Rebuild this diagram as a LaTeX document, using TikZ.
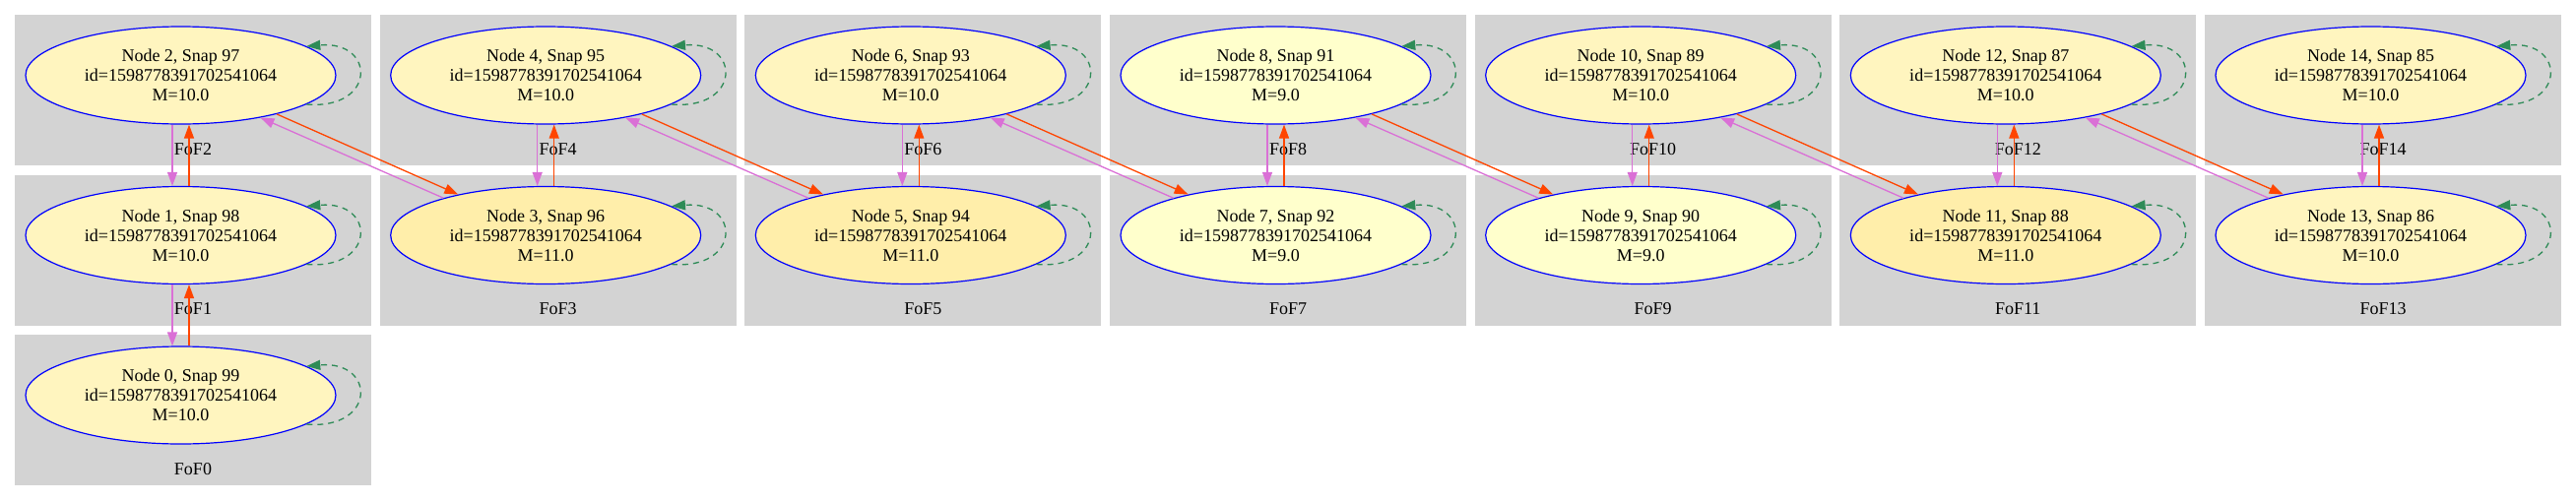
\documentclass[tikz,border=0pt]{standalone}
\usepackage{fontspec}
\setmainfont{Liberation Serif}
\usepackage{xcolor}
\usepackage{tikz}
\usetikzlibrary{shapes.geometric,arrows.meta}
\definecolor{mnine}{HTML}{FFFFCC}
\definecolor{mten}{HTML}{FFF5BF}
\definecolor{meleven}{HTML}{FFEEAA}
\definecolor{boxgray}{HTML}{D3D3D3}
\definecolor{fwdcol}{HTML}{FF4500}
\definecolor{backcol}{HTML}{DA70D6}
\definecolor{loopcol}{HTML}{2E8B57}

\begin{document}
\begin{tikzpicture}
[
x=1pt,y=-1pt,
fof/.style={ellipse,draw=blue,line width=1.2pt,fill=#1,
            minimum width=315pt,minimum height=99pt,inner sep=0pt,
            align=center,font=\fontsize{18}{20}\selectfont},
fofbox/.style={fill=boxgray},
foflabel/.style={inner sep=0pt,font=\fontsize{18}{20}\selectfont},
tip/.style={-{Triangle[length=14pt,width=10pt]}},
fwd/.style={tip,draw=fwdcol,line width=1.3pt},
back/.style={tip,draw=backcol,line width=1.3pt},
selfloop/.style={tip,draw=loopcol,line width=1.3pt,dash pattern=on 6pt off 5pt},
]
\useasboundingbox (0,0) rectangle (2616,509);

%cluster boxes
\fill[fofbox] (15,15) rectangle (377,168);		%FoF2
\fill[fofbox] (15,178) rectangle (377,331);		%FoF1
\fill[fofbox] (15,340) rectangle (377,493);		%FoF0
\fill[fofbox] (385.7,15) rectangle (747.7,168);	%FoF4
\fill[fofbox] (385.7,178) rectangle (747.7,331);	%FoF3
\fill[fofbox] (756.3,15) rectangle (1118.3,168);	%FoF6
\fill[fofbox] (756.3,178) rectangle (1118.3,331);	%FoF5
\fill[fofbox] (1127,15) rectangle (1489,168);		%FoF8
\fill[fofbox] (1127,178) rectangle (1489,331);		%FoF7
\fill[fofbox] (1497.7,15) rectangle (1859.7,168);	%FoF10
\fill[fofbox] (1497.7,178) rectangle (1859.7,331);	%FoF9
\fill[fofbox] (1868.3,15) rectangle (2230.3,168);	%FoF12
\fill[fofbox] (1868.3,178) rectangle (2230.3,331);	%FoF11
\fill[fofbox] (2239,15) rectangle (2601,168);		%FoF14
\fill[fofbox] (2239,178) rectangle (2601,331);		%FoF13

%cluster labels
\node[foflabel] (l0) at (196,477) {FoF0};
\node[foflabel] (l1) at (196,313.5) {FoF1};
\node[foflabel] (l2) at (196,152) {FoF2};
\node[foflabel] (l3) at (566.7,313.5) {FoF3};
\node[foflabel] (l4) at (566.7,152) {FoF4};
\node[foflabel] (l5) at (937.3,313.5) {FoF5};
\node[foflabel] (l6) at (937.3,152) {FoF6};
\node[foflabel] (l7) at (1308,313.5) {FoF7};
\node[foflabel] (l8) at (1308,152) {FoF8};
\node[foflabel] (l9) at (1678.7,313.5) {FoF9};
\node[foflabel] (l10) at (1678.7,152) {FoF10};
\node[foflabel] (l11) at (2049.3,313.5) {FoF11};
\node[foflabel] (l12) at (2049.3,152) {FoF12};
\node[foflabel] (l13) at (2420,313.5) {FoF13};
\node[foflabel] (l14) at (2420,152) {FoF14};

%Place the nodes
\node[fof=mten] (n0) at (183.5,401.5) {Node 0, Snap 99\\id=1598778391702541064\\M=10.0};
\node[fof=mten] (n1) at (183.5,239) {Node 1, Snap 98\\id=1598778391702541064\\M=10.0};
\node[fof=mten] (n2) at (183.5,76.5) {Node 2, Snap 97\\id=1598778391702541064\\M=10.0};
\node[fof=meleven] (n3) at (554.2,239) {Node 3, Snap 96\\id=1598778391702541064\\M=11.0};
\node[fof=mten] (n4) at (554.2,76.5) {Node 4, Snap 95\\id=1598778391702541064\\M=10.0};
\node[fof=meleven] (n5) at (924.8,239) {Node 5, Snap 94\\id=1598778391702541064\\M=11.0};
\node[fof=mten] (n6) at (924.8,76.5) {Node 6, Snap 93\\id=1598778391702541064\\M=10.0};
\node[fof=mnine] (n7) at (1295.5,239) {Node 7, Snap 92\\id=1598778391702541064\\M=9.0};
\node[fof=mnine] (n8) at (1295.5,76.5) {Node 8, Snap 91\\id=1598778391702541064\\M=9.0};
\node[fof=mnine] (n9) at (1666.2,239) {Node 9, Snap 90\\id=1598778391702541064\\M=9.0};
\node[fof=mten] (n10) at (1666.2,76.5) {Node 10, Snap 89\\id=1598778391702541064\\M=10.0};
\node[fof=meleven] (n11) at (2036.8,239) {Node 11, Snap 88\\id=1598778391702541064\\M=11.0};
\node[fof=mten] (n12) at (2036.8,76.5) {Node 12, Snap 87\\id=1598778391702541064\\M=10.0};
\node[fof=mten] (n13) at (2407.5,239) {Node 13, Snap 86\\id=1598778391702541064\\M=10.0};
\node[fof=mten] (n14) at (2407.5,76.5) {Node 14, Snap 85\\id=1598778391702541064\\M=10.0};

%self loops
\draw[selfloop] (n0.-13) .. controls +(71,6) and +(71,-6) .. (n0.13);
\draw[selfloop] (n1.-13) .. controls +(71,6) and +(71,-6) .. (n1.13);
\draw[selfloop] (n2.-13) .. controls +(71,6) and +(71,-6) .. (n2.13);
\draw[selfloop] (n3.-13) .. controls +(71,6) and +(71,-6) .. (n3.13);
\draw[selfloop] (n4.-13) .. controls +(71,6) and +(71,-6) .. (n4.13);
\draw[selfloop] (n5.-13) .. controls +(71,6) and +(71,-6) .. (n5.13);
\draw[selfloop] (n6.-13) .. controls +(71,6) and +(71,-6) .. (n6.13);
\draw[selfloop] (n7.-13) .. controls +(71,6) and +(71,-6) .. (n7.13);
\draw[selfloop] (n8.-13) .. controls +(71,6) and +(71,-6) .. (n8.13);
\draw[selfloop] (n9.-13) .. controls +(71,6) and +(71,-6) .. (n9.13);
\draw[selfloop] (n10.-13) .. controls +(71,6) and +(71,-6) .. (n10.13);
\draw[selfloop] (n11.-13) .. controls +(71,6) and +(71,-6) .. (n11.13);
\draw[selfloop] (n12.-13) .. controls +(71,6) and +(71,-6) .. (n12.13);
\draw[selfloop] (n13.-13) .. controls +(71,6) and +(71,-6) .. (n13.13);
\draw[selfloop] (n14.-13) .. controls +(71,6) and +(71,-6) .. (n14.13);

%connections
%same column, going up
\draw[fwd] ([xshift=8.5pt]n0.north) -- ([xshift=8.5pt]n1.south);
\draw[back] ([xshift=-8.5pt]n1.south) -- ([xshift=-8.5pt]n0.north);
\draw[fwd] ([xshift=8.5pt]n1.north) -- ([xshift=8.5pt]n2.south);
\draw[back] ([xshift=-8.5pt]n2.south) -- ([xshift=-8.5pt]n1.north);
\draw[fwd] ([xshift=8.5pt]n3.north) -- ([xshift=8.5pt]n4.south);
\draw[back] ([xshift=-8.5pt]n4.south) -- ([xshift=-8.5pt]n3.north);
\draw[fwd] ([xshift=8.5pt]n5.north) -- ([xshift=8.5pt]n6.south);
\draw[back] ([xshift=-8.5pt]n6.south) -- ([xshift=-8.5pt]n5.north);
\draw[fwd] ([xshift=8.5pt]n7.north) -- ([xshift=8.5pt]n8.south);
\draw[back] ([xshift=-8.5pt]n8.south) -- ([xshift=-8.5pt]n7.north);
\draw[fwd] ([xshift=8.5pt]n9.north) -- ([xshift=8.5pt]n10.south);
\draw[back] ([xshift=-8.5pt]n10.south) -- ([xshift=-8.5pt]n9.north);
\draw[fwd] ([xshift=8.5pt]n11.north) -- ([xshift=8.5pt]n12.south);
\draw[back] ([xshift=-8.5pt]n12.south) -- ([xshift=-8.5pt]n11.north);
\draw[fwd] ([xshift=8.5pt]n13.north) -- ([xshift=8.5pt]n14.south);
\draw[back] ([xshift=-8.5pt]n14.south) -- ([xshift=-8.5pt]n13.north);
%next column, going down
\draw[fwd] (n2.-22) -- (n3.155.5);
\draw[back] (n3.160.4) -- (n2.-28);
\draw[fwd] (n4.-22) -- (n5.155.5);
\draw[back] (n5.160.4) -- (n4.-28);
\draw[fwd] (n6.-22) -- (n7.155.5);
\draw[back] (n7.160.4) -- (n6.-28);
\draw[fwd] (n8.-22) -- (n9.155.5);
\draw[back] (n9.160.4) -- (n8.-28);
\draw[fwd] (n10.-22) -- (n11.155.5);
\draw[back] (n11.160.4) -- (n10.-28);
\draw[fwd] (n12.-22) -- (n13.155.5);
\draw[back] (n13.160.4) -- (n12.-28);
\end{tikzpicture}
\end{document}
